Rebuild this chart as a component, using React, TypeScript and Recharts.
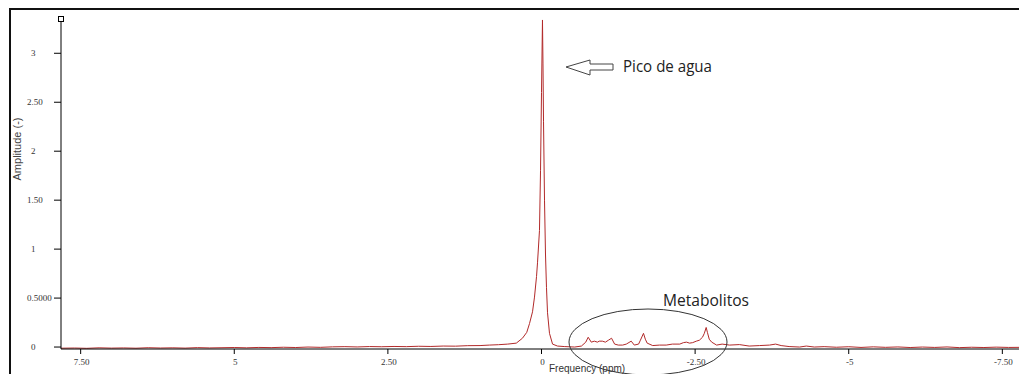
import { Line, LineChart, XAxis, YAxis } from "recharts"

// chemical shift (ppm) and amplitude in pieces
const baselineLeftPpm = [7.82, 7.6, 7.4, 7.2, 7.0, 6.8, 6.6, 6.4, 6.2, 6.0, 5.8, 5.6, 5.4, 5.2, 5.0, 4.8, 4.6, 4.4, 4.2, 4.0, 3.8, 3.6, 3.4, 3.2, 3.0, 2.8, 2.6, 2.4, 2.2, 2.0, 1.8, 1.6, 1.4, 1.2, 1.0, 0.85, 0.7, 0.55]
const baselineLeftAmp = [-0.012, -0.01, -0.013, -0.008, -0.011, -0.009, -0.012, -0.007, -0.01, -0.008, -0.011, -0.006, -0.009, -0.007, -0.005, -0.008, -0.004, -0.006, -0.002, -0.005, 0.0, -0.003, 0.002, 0.004, 0.001, 0.005, 0.003, 0.006, 0.004, 0.008, 0.006, 0.01, 0.009, 0.014, 0.015, 0.02, 0.024, 0.03]

const waterPeakPpm = [0.41, 0.31, 0.24, 0.195, 0.146, 0.114, 0.081, 0.065, 0.033, 0.016, 0.0, -0.016, -0.024, -0.033, -0.049, -0.065, -0.081, -0.098, -0.13, -0.18, -0.26]
const waterPeakAmp = [0.04, 0.09, 0.15, 0.24, 0.36, 0.51, 0.72, 0.86, 1.19, 1.8, 2.6, 3.34, 2.9, 2.3, 1.5, 0.95, 0.61, 0.35, 0.14, 0.03, 0.01]

const metabolitePpm = [-0.37, -0.54, -0.65, -0.72, -0.76, -0.81, -0.86, -0.91, -0.94, -0.99, -1.04, -1.09, -1.14, -1.19, -1.25, -1.32, -1.38, -1.46, -1.51, -1.58, -1.61, -1.66, -1.69, -1.72, -1.81, -1.92, -2.03, -2.13, -2.25, -2.31, -2.36, -2.41, -2.46, -2.52, -2.57, -2.62, -2.65, -2.68, -2.7, -2.73, -2.77, -2.85, -2.94, -3.06, -3.22, -3.38, -3.55, -3.71, -3.81, -3.9, -4.03, -4.2, -4.31, -4.44]
const metaboliteAmp = [0.005, 0.0, 0.01, 0.05, 0.1, 0.05, 0.06, 0.05, 0.06, 0.06, 0.05, 0.07, 0.09, 0.03, 0.02, 0.02, 0.03, 0.06, 0.02, 0.03, 0.07, 0.14, 0.08, 0.04, 0.015, 0.02, 0.02, 0.03, 0.03, 0.045, 0.05, 0.04, 0.045, 0.06, 0.07, 0.1, 0.14, 0.2, 0.15, 0.08, 0.05, 0.02, 0.03, 0.02, 0.025, 0.01, 0.015, 0.02, 0.03, 0.015, 0.005, 0.0, 0.01, 0.0]

const baselineRightPpm = [-4.6, -4.8, -5.0, -5.2, -5.4, -5.6, -5.8, -6.0, -6.2, -6.4, -6.6, -6.8, -7.0, -7.2, -7.4, -7.6, -7.82]
const baselineRightAmp = [0.004, -0.002, 0.003, -0.004, 0.002, -0.003, 0.001, -0.005, 0.0, -0.004, 0.001, -0.006, -0.002, -0.005, -0.001, -0.004, -0.003]

const xTicks = [7.5, 5, 2.5, 0, -2.5, -5, -7.5]
const xTickLabels = ["7.50", "5", "2.50", "0", "-2.50", "-5", "-7.50"]
const yTicks = [0, 0.5, 1, 1.5, 2, 2.5, 3]
const yTickLabels = ["0", "0.5000", "1", "1.50", "2", "2.50", "3"]

const spectrum = [
  ...baselineLeftPpm.map((ppm, i) => ({ ppm, amp: baselineLeftAmp[i] })),
  ...waterPeakPpm.map((ppm, i) => ({ ppm, amp: waterPeakAmp[i] })),
  ...metabolitePpm.map((ppm, i) => ({ ppm, amp: metaboliteAmp[i] })),
  ...baselineRightPpm.map((ppm, i) => ({ ppm, amp: baselineRightAmp[i] })),
]

const tickFont = { fontFamily: "Liberation Serif", fontSize: 9, fill: "#333" }

function XTick({ x, y, payload }: any) {
  const idx = xTicks.indexOf(payload.value)
  return (
    <text x={x + 1} y={y + 9} textAnchor="middle" {...tickFont}>
      {xTickLabels[idx] ?? payload.value}
    </text>
  )
}

function YTick({ y, payload }: any) {
  const idx = yTicks.indexOf(payload.value)
  const label = yTickLabels[idx] ?? String(payload.value)
  return (
    <text x={label.length > 1 ? 19 : 23} y={y + 3} textAnchor="start" {...tickFont}>
      {label}
    </text>
  )
}

export default function App() {
  return (
    <div style={{ position: "relative", width: 1019, height: 366 }}>
      <div
        style={{
          position: "absolute",
          left: 1,
          top: 0,
          width: 1018,
          height: 366,
          borderTop: "2px solid #111",
          borderLeft: "2px solid #111",
          boxSizing: "border-box",
        }}
      />
      <div style={{ position: "absolute", left: 0, top: 0 }}>
        <LineChart width={1019} height={366} data={spectrum} margin={{ top: 11, right: 5, left: 8, bottom: 5 }}>
          <XAxis
            dataKey="ppm"
            type="number"
            domain={[-7.82, 7.82]}
            reversed
            ticks={xTicks}
            tick={<XTick />}
            tickSize={5}
            height={20}
            stroke="#000"
            allowDataOverflow
          />
          <YAxis
            type="number"
            domain={[-0.02, 3.35]}
            ticks={yTicks}
            tick={<YTick />}
            tickSize={7}
            width={45}
            stroke="#000"
            allowDataOverflow
          />
          <Line
            type="linear"
            dataKey="amp"
            stroke="#b22a2a"
            strokeWidth={1}
            dot={false}
            isAnimationActive={false}
          />
        </LineChart>
      </div>
      <svg
        width={1019}
        height={366}
        style={{ position: "absolute", left: 0, top: 0, overflow: "visible", pointerEvents: "none" }}
      >
        <rect x={50.5} y={8.5} width={5} height={5} fill="#fff" stroke="#000" />
        <rect x={1011.5} y={338.5} width={5} height={5} fill="#fff" stroke="#000" />
        <text
          transform="translate(13,141) rotate(-90)"
          textAnchor="middle"
          fontFamily="Liberation Sans"
          fontSize={11}
          fill="#444"
        >
          Amplitude (-)
        </text>
        <text x={541} y={364} fontFamily="Liberation Sans" fontSize={10} fill="#333">
          Frequency (ppm)
        </text>
        <polygon
          points="558,59 582,52 582,56 605,56 605,62 582,62 582,67"
          fill="#fff"
          stroke="#444"
          strokeWidth={1}
        />
        <text x={615} y={64} fontFamily="Open Sans" fontSize={16} fill="#222" textLength={89} lengthAdjust="spacingAndGlyphs">
          Pico de agua
        </text>
        <text x={655} y={298} fontFamily="Open Sans" fontSize={16} fill="#222" textLength={86} lengthAdjust="spacingAndGlyphs">
          Metabolitos
        </text>
        <ellipse cx={640} cy={334} rx={79} ry={33} fill="none" stroke="#333" strokeWidth={1} />
      </svg>
    </div>
  )
}
